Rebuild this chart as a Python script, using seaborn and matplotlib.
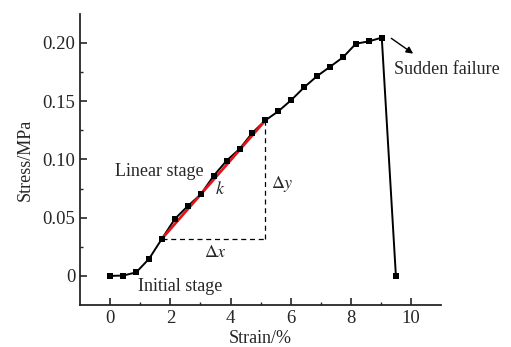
import matplotlib
matplotlib.use("Agg")
import matplotlib.pyplot as plt
import seaborn as sns
import pandas as pd

# stress-strain curve
strain = [0.0, 0.43, 0.86, 1.29, 1.72, 2.15, 2.58, 3.01, 3.44, 3.87, 4.30, 4.73,
          5.16, 5.59, 6.02, 6.45, 6.88, 7.31, 7.74, 8.17, 8.60, 9.03, 9.50]
stress = [0.0, 0.0003, 0.003, 0.0147, 0.032, 0.049, 0.060, 0.070, 0.086, 0.099, 0.109, 0.123,
          0.1336, 0.1414, 0.151, 0.162, 0.1716, 0.1796, 0.1877, 0.1994, 0.2014, 0.2046, 0.0]

# linear stage fit runs between these two points
fit_start = 4
fit_end = 12

xticks = [0, 2, 4, 6, 8, 10]
yticks = [0, 0.05, 0.10, 0.15, 0.20]
yticklabels = ["0", "0.05", "0.10", "0.15", "0.20"]

df = pd.DataFrame({"strain": strain, "stress": stress})

sns.set_style("ticks")
plt.rcParams["font.family"] = ["Liberation Serif", "DejaVu Serif"]
plt.rcParams["mathtext.fontset"] = "stix"

fig = plt.figure(figsize=(5.11, 3.47), dpi=100)
ax = fig.add_axes([0.157, 0.121, 0.706, 0.839])

sns.lineplot(data=df, x="strain", y="stress", color="black", linewidth=1.4, sort=False, ax=ax, zorder=2)

fx = [strain[fit_start], strain[fit_end]]
fy = [stress[fit_start], stress[fit_end]]
ax.plot(fx, fy, color="#e0151b", linewidth=2.0, zorder=3)

sns.scatterplot(data=df, x="strain", y="stress", marker="s", color="black", s=22,
                edgecolor="black", linewidth=0, ax=ax, zorder=4)

# delta x / delta y construction
ax.plot([fx[0], fx[1]], [fy[0], fy[0]], color="black", linestyle=(0, (4, 3)), linewidth=0.9, zorder=1)
ax.plot([fx[1], fx[1]], [fy[0], fy[1]], color="black", linestyle=(0, (4, 3)), linewidth=0.9, zorder=1)

fs = 13
ax.text(3.1, 0.0895, "Linear stage", ha="right", va="center", fontsize=fs)
ax.text(3.67, 0.0745, "$k$", ha="center", va="center", fontsize=fs)
ax.text(3.5, 0.020, r"$\Delta x$", ha="center", va="center", fontsize=fs)
ax.text(5.33, 0.079, r"$\Delta y$", ha="left", va="center", fontsize=fs)
ax.text(2.33, -0.0095, "Initial stage", ha="center", va="center", fontsize=fs)
ax.text(9.45, 0.1776, "Sudden failure", ha="left", va="center", fontsize=fs, clip_on=False)
ax.annotate("", xy=(10.15, 0.1895), xytext=(9.27, 0.2054),
            arrowprops=dict(arrowstyle="-|>", color="black", lw=1.0, mutation_scale=10),
            annotation_clip=False)

ax.set_xlim(-1, 11)
ax.set_ylim(-0.025, 0.225)
ax.set_xticks(xticks)
ax.set_xticklabels([str(t) for t in xticks])
ax.set_yticks(yticks)
ax.set_yticklabels(yticklabels)
ax.set_xticks([1, 3, 5, 7, 9], minor=True)
ax.set_yticks([0.025, 0.075, 0.125, 0.175], minor=True)
ax.tick_params(axis="both", which="major", direction="in", length=5, width=1.2, labelsize=13.5)
ax.tick_params(axis="both", which="minor", direction="in", length=2.5, width=1.0)
ax.set_xlabel("Strain/%", fontsize=fs, labelpad=2)
ax.set_ylabel("Stress/MPa", fontsize=fs, labelpad=6)
sns.despine(ax=ax)
for s in ["left", "bottom"]:
    ax.spines[s].set_linewidth(1.3)

fig.savefig("out.png", dpi=100)
